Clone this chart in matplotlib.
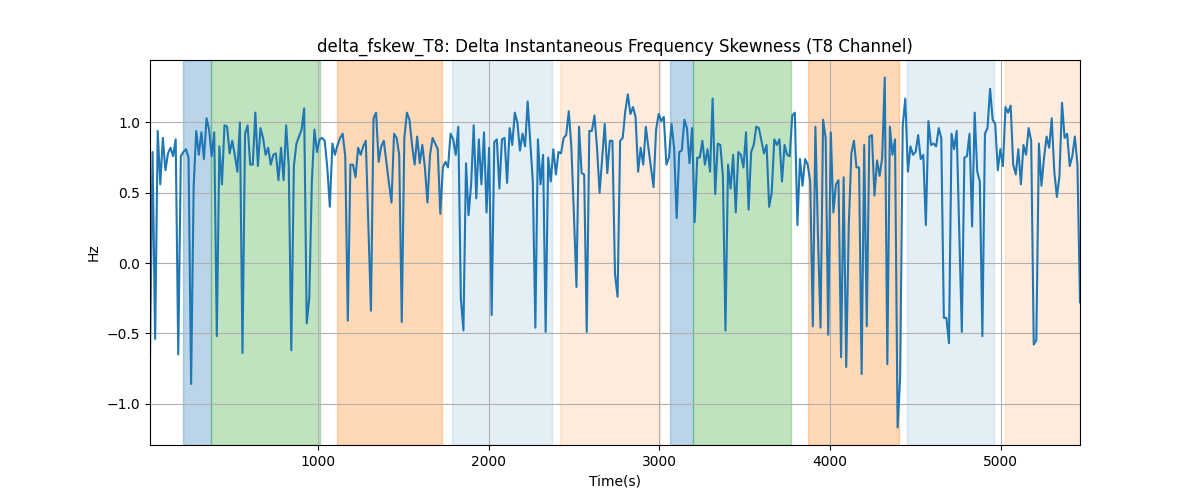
## plot delta fskew T8 with state spans

import numpy as np
import matplotlib.pyplot as plt

# values, left to right
seg1 = [-0.67, 0.79, -0.54, 0.94, 0.56, 0.89, 0.66, 0.78, 0.82, 0.76, 0.88, -0.65,
        0.76, 0.79, 0.81, 0.75, -0.86, 0.55, 0.94, 0.77, 0.93, 0.74, 1.03, 0.95,
        0.76, 0.93, -0.52, 0.83, 0.56, 0.98, 0.97, 0.78, 0.87, 0.77, 0.65, 1.00,
        -0.64, 0.92, 0.98, 0.70, 0.70, 1.07, 0.69, 0.96, 0.89, 0.77, 0.82, 0.70,
        0.77, 0.78, 0.59, 0.82, 0.59, 0.98, 0.69, -0.62, 0.69, 0.85, 0.90, 0.95, 1.10]
seg2 = [-0.43, -0.25, 0.58, 0.95, 0.79, 0.88, 0.89, 0.87, 0.68, 0.40, 0.85, 0.77,
        0.84, 0.89, 0.92, 0.76, -0.41, 0.70, 0.70, 0.61, 0.82, 0.77, 0.83, 0.87,
        0.27, -0.34, 1.03, 1.07, 0.72, 0.83, 0.87, 0.72, 0.57, 0.43, 0.92, 0.89,
        0.77, -0.42, 0.89, 1.07, 1.02, 0.84, 0.70, 0.90, 0.71, 0.84, 0.68, 0.43,
        0.77, 0.89, 0.85, 0.81, 0.35, 0.68, 0.72, 0.68, 0.92, 0.88, 0.77, 0.97]
seg3 = [-0.25, -0.48, 0.71, 0.34, 0.56, 0.98, 0.46, 0.88, 0.56, 0.93, 0.36, 0.82,
        -0.37, 0.86, 0.88, 0.53, 0.88, 0.89, 0.57, 0.96, 0.84, 1.07, 1.00, 0.80,
        0.92, 0.83, 1.15, 0.87, 0.58, -0.46, 0.88, 0.56, 0.77, -0.49, 0.75, 0.58,
        0.81, 0.63, 0.79, 0.78, 0.89, 0.91, 1.08, 0.83, 0.35, -0.17, 0.97, 0.64,
        0.63, -0.49, 0.94, 0.94, 1.05, 0.82, 0.50, 0.75, 0.99, 0.64, 0.87, 0.87]
seg4 = [-0.08, -0.24, 0.87, 0.89, 1.08, 1.20, 1.06, 1.11, 1.04, 0.65, 0.82, 0.70,
        0.97, 0.82, 0.68, 0.54, 0.95, 1.06, 1.01, 1.04, 0.70, 0.75, 0.99, 0.82,
        0.32, 0.79, 0.80, 1.02, 0.96, 0.71, 0.96, 0.29, 0.75, 0.75, 0.87, 0.70,
        0.81, 0.65, 1.17, 0.49, 0.85, 0.84, 0.62, -0.48, 0.70, 0.53, 0.77, 0.36,
        0.79, 0.77, 0.68, 0.93, 0.38, 0.79, 0.84, 0.97, 0.96, 0.87, 0.78, 0.84,
        0.40, 0.50]
seg5 = [0.88, 0.84, 0.88, 0.58, 0.84, 0.77, 0.76, 1.05, 1.07, 0.27, 0.74, 0.55,
        0.74, 0.70, 0.58, -0.45, 0.97, 0.20, -0.46, 1.02, 0.89, -0.51, 0.93, 0.36,
        0.56, 0.59, -0.67, 0.61, -0.74, 0.27, 0.78, 0.87, 0.68, 0.68, -0.79, 0.84,
        -0.45, 0.90, 0.91, 0.48, 0.73, 0.62, 0.75, 1.32, -0.72, 0.97, 0.77, 0.88,
        -1.17, -0.81, 0.98, 1.17, 0.65, 0.83, 0.77, 0.79, 0.91, 0.74, 0.77, 0.27, 1.01]
seg6 = [0.84, 0.85, 0.83, 0.96, 0.89, -0.39, -0.39, -0.57, 0.92, 0.81, 0.94, 0.23,
        -0.49, 0.75, 0.76, 0.92, 0.26, 1.07, 0.65, 0.58, -0.52, 0.92, 0.96, 1.24,
        1.02, 0.99, 0.66, 0.81, 0.69, 1.11, 1.07, 1.12, 0.70, 0.63, 0.81, 0.56,
        0.84, 0.77, 0.96, 0.87, -0.58, -0.55, 0.85, 0.55, 0.75, 0.90, 0.82, 1.03,
        0.65, 0.47, 0.62, 1.14, 0.89, 0.92, 0.69, 0.76, 0.90, 0.70, -0.28]

fskew = np.array(seg1 + seg2 + seg3 + seg4 + seg5 + seg6)
t_start, t_end = 16, 5464
time = np.linspace(t_start, t_end, len(fskew))

# shaded periods (start, end, colour, alpha)
span_start = [209, 373, 1111, 1784, 2417, 3062, 3197, 3871, 4451, 5025]
span_end = [373, 1011, 1726, 2370, 3003, 3197, 3771, 4404, 4960, 5464]
span_color = ['C0', 'C2', 'C1', 'C0', 'C1', 'C0', 'C2', 'C1', 'C0', 'C1']
span_alpha = [0.3, 0.3, 0.3, 0.12, 0.15, 0.3, 0.3, 0.3, 0.12, 0.15]

fig, ax = plt.subplots(figsize=(12, 5), dpi=100)
for s, e, c, a in zip(span_start, span_end, span_color, span_alpha):
    ax.axvspan(s, e, color=c, alpha=a)

ax.plot(time, fskew, color='C0')
ax.set_xlim(t_start, t_end)
ax.set_title("delta_fskew_T8: Delta Instantaneous Frequency Skewness (T8 Channel)")
ax.set_xlabel("Time(s)")
ax.set_ylabel("Hz")
ax.grid(True)

plt.savefig("out.png")
